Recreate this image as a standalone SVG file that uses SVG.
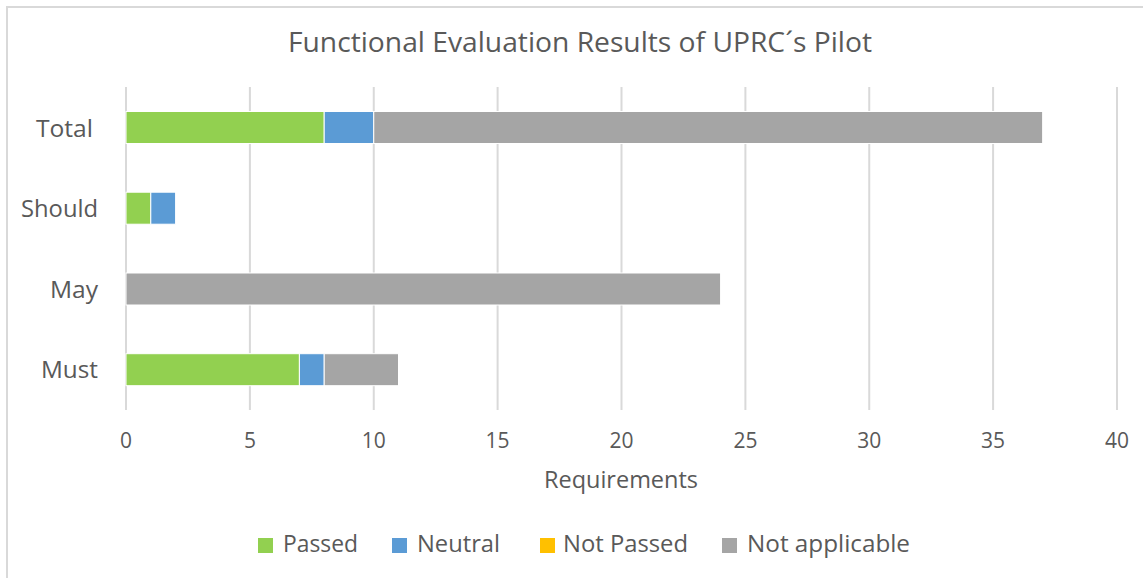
<svg xmlns="http://www.w3.org/2000/svg" width="1143" height="578" viewBox="0 0 1143 578">
<style>
text{font-family:"Open Sans","Noto Sans","Liberation Sans",sans-serif;fill:#595959}
.title{font-size:28px}
.cat{font-size:24px;text-anchor:end}
.tick{font-size:21px;text-anchor:middle}
.leg{font-size:24px}
.grid{stroke:#D9D9D9;stroke-width:2}
.bar{stroke:#fff;stroke-width:1}
.p{fill:#92D050}.n{fill:#5B9BD5}.np{fill:#FFC000}.na{fill:#A5A5A5}
</style>
<rect x="7" y="7" width="1150" height="600" fill="#fff" stroke="#D9D9D9" stroke-width="2"/>
<g id="title"><text class="title" x="580" y="52" text-anchor="middle" textLength="584" lengthAdjust="spacingAndGlyphs">Functional Evaluation Results of UPRC´s Pilot</text></g>
<g id="gridlines">
<line class="grid" x1="126" y1="87" x2="126" y2="410"/>
<line class="grid" x1="249.9" y1="87" x2="249.9" y2="410"/>
<line class="grid" x1="373.75" y1="87" x2="373.75" y2="410"/>
<line class="grid" x1="497.6" y1="87" x2="497.6" y2="410"/>
<line class="grid" x1="621.5" y1="87" x2="621.5" y2="410"/>
<line class="grid" x1="745.4" y1="87" x2="745.4" y2="410"/>
<line class="grid" x1="869.25" y1="87" x2="869.25" y2="410"/>
<line class="grid" x1="993.1" y1="87" x2="993.1" y2="410"/>
<line class="grid" x1="1117" y1="87" x2="1117" y2="410"/>
</g>
<g id="bar-total">
<rect class="bar p" x="126" y="111.5" width="198.2" height="32"/>
<rect class="bar n" x="324.2" y="111.5" width="49.55" height="32"/>
<rect class="bar na" x="373.75" y="111.5" width="668.9" height="32"/>
</g>
<g id="bar-should">
<rect class="bar p" x="126" y="192.2" width="24.8" height="32"/>
<rect class="bar n" x="150.8" y="192.2" width="24.8" height="32"/>
</g>
<g id="bar-may">
<rect class="bar na" x="126" y="273" width="594.6" height="32"/>
</g>
<g id="bar-must">
<rect class="bar p" x="126" y="353.7" width="173.4" height="32"/>
<rect class="bar n" x="299.4" y="353.7" width="24.8" height="32"/>
<rect class="bar na" x="324.2" y="353.7" width="74.3" height="32"/>
</g>
<g id="category-labels">
<text class="cat" x="93" y="137" textLength="57" lengthAdjust="spacingAndGlyphs">Total</text>
<text class="cat" x="98" y="217" textLength="77" lengthAdjust="spacingAndGlyphs">Should</text>
<text class="cat" x="98" y="298" textLength="48" lengthAdjust="spacingAndGlyphs">May</text>
<text class="cat" x="98" y="378" textLength="57" lengthAdjust="spacingAndGlyphs">Must</text>
</g>
<g id="tick-labels">
<text class="tick" x="126" y="448">0</text>
<text class="tick" x="249.9" y="448">5</text>
<text class="tick" x="373.75" y="448">10</text>
<text class="tick" x="497.6" y="448">15</text>
<text class="tick" x="621.5" y="448">20</text>
<text class="tick" x="745.4" y="448">25</text>
<text class="tick" x="869.25" y="448">30</text>
<text class="tick" x="993.1" y="448">35</text>
<text class="tick" x="1117" y="448">40</text>
</g>
<g id="axis-title"><text class="leg" x="544" y="488" textLength="154" lengthAdjust="spacingAndGlyphs">Requirements</text></g>
<g id="legend">
<rect class="p" x="258" y="538" width="15" height="15"/>
<text class="leg" x="283" y="552" textLength="75" lengthAdjust="spacingAndGlyphs">Passed</text>
<rect class="n" x="392" y="538" width="15" height="15"/>
<text class="leg" x="417" y="552" textLength="83" lengthAdjust="spacingAndGlyphs">Neutral</text>
<rect class="np" x="540" y="538" width="15" height="15"/>
<text class="leg" x="563" y="552" textLength="125" lengthAdjust="spacingAndGlyphs">Not Passed</text>
<rect class="na" x="722" y="538" width="15" height="15"/>
<text class="leg" x="747" y="552" textLength="163" lengthAdjust="spacingAndGlyphs">Not applicable</text>
</g>
</svg>
